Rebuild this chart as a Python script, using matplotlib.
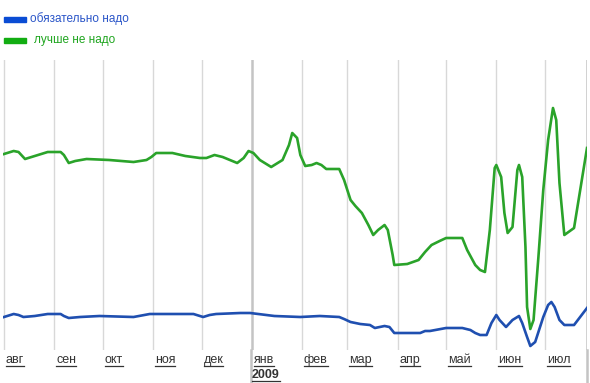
import matplotlib
matplotlib.use("Agg")
import matplotlib.pyplot as plt
from matplotlib.lines import Line2D

plt.rcParams['font.family'] = ['Liberation Sans', 'DejaVu Sans']

# days counted from 1 Aug 2008
green_days = [0, 6, 9, 13, 19, 27, 35, 37, 40, 44, 51, 65, 80, 88, 91, 94, 104, 112, 121, 125,
              130, 135, 144, 148, 151, 154, 158, 165, 172, 176, 178, 181, 183, 186, 190, 193, 196, 199, 207, 210,
              214, 217, 221, 225, 228, 231, 235, 237, 240, 241, 249, 256, 260, 264, 269, 273, 283, 286, 291, 294,
              297, 300, 303, 304, 307, 309, 311, 314, 317, 318, 320, 322, 323, 325, 327, 330, 333, 336, 339, 341,
              343, 346, 352, 360]
green_vals = [196, 199, 198, 191, 194, 198, 198, 195, 187, 189, 191, 190, 188, 190, 193, 197, 197, 194, 192, 192,
              195, 193, 187, 192, 199, 197, 190, 183, 190, 205, 217, 212, 195, 184, 185, 187, 185, 181, 181, 170,
              150, 144, 137, 125, 115, 120, 125, 120, 95, 85, 86, 90, 98, 105, 109, 112, 112, 100, 85, 80,
              78, 120, 182, 185, 173, 137, 117, 123, 180, 185, 173, 103, 43, 21, 30, 93, 160, 210, 242, 230,
              167, 115, 122, 202]

blue_days = [0, 6, 9, 12, 19, 27, 35, 37, 40, 47, 59, 80, 90, 102, 117, 121, 123, 127, 131, 146,
             152, 167, 183, 195, 207, 210, 214, 220, 226, 229, 232, 235, 238, 241, 257, 260, 263, 273, 283, 288,
             291, 294, 298, 301, 304, 306, 310, 314, 318, 320, 323, 325, 328, 333, 336, 338, 340, 343, 346, 352,
             360]
blue_vals = [33, 36, 35, 33, 34, 36, 36, 34, 32, 33, 34, 33, 36, 36, 36, 34, 33, 35, 36, 37,
             37, 34, 33, 34, 33, 31, 28, 26, 25, 22, 23, 24, 23, 17, 17, 19, 19, 22, 22, 20,
             17, 15, 15, 27, 35, 30, 23, 30, 34, 27, 13, 4, 8, 33, 45, 48, 43, 30, 25, 25,
             42]

month_days = [0, 31, 61, 92, 122, 153, 184, 212, 243, 273, 304, 334]
month_labels = ['авг', 'сен', 'окт', 'ноя', 'дек', 'янв', 'фев', 'мар', 'апр', 'май', 'июн', 'июл']
series_names = ['обязательно надо', 'лучше не надо']

W, H = 590, 383
fig = plt.figure(figsize=(W / 100, H / 100), dpi=100)
ax = fig.add_axes([3 / W, (H - 350) / H, 584 / W, 290 / H])
ax.set_xlim(-0.6, 360)
ax.set_ylim(0, 290)
for s in ax.spines.values():
    s.set_visible(False)
ax.set_xticks([])
ax.set_yticks([])

for d in month_days:
    if d == 153:
        ax.axvline(d, color='#c4c4c4', lw=1.8, zorder=1)
    else:
        ax.axvline(d, color='#d8d8d8', lw=1, zorder=1)
ax.axvline(360, color='#c4c4c4', lw=1.8, zorder=1)

ax.plot(blue_days, blue_vals, color='#1f4fb0', lw=1.9, solid_joinstyle='round', zorder=3)
ax.plot(green_days, green_vals, color='#2aa32a', lw=1.9, solid_joinstyle='round', zorder=3)

# extend Jan and right edge lines below the plot
fig.add_artist(Line2D([251 / W, 251 / W], [0, 33 / H], color='#c4c4c4', lw=1.8))
fig.add_artist(Line2D([587 / W, 587 / W], [0, 33 / H], color='#c4c4c4', lw=1.8))

# month labels, underlined
labels = []
for d, lab in zip(month_days, month_labels):
    xf = ax.transData.transform((d, 0))[0] / W
    t = fig.text(xf + 2 / W, 1 - 360 / H, lab, fontsize=9, color='#333333', va='center', ha='left')
    labels.append(t)
t = fig.text(252 / W, 1 - 375 / H, '2009', fontsize=9, color='#333333', va='center', ha='left',
             fontweight='bold')
labels.append(t)

# legend
fig.patches.append(plt.Rectangle((4 / W, 1 - 22 / H), 22 / W, 5 / H, transform=fig.transFigure,
                                 color='#0a4cd4', figure=fig))
fig.patches.append(plt.Rectangle((4 / W, 1 - 43 / H), 22 / W, 5 / H, transform=fig.transFigure,
                                 color='#12ad12', figure=fig))
fig.text(30 / W, 1 - 19 / H, series_names[0], fontsize=8.5, color='#2a55c8', va='center', ha='left')
fig.text(34 / W, 1 - 40 / H, series_names[1], fontsize=8.5, color='#1ea51e', va='center', ha='left')

fig.canvas.draw()
r = fig.canvas.get_renderer()
for t in labels:
    bb = t.get_window_extent(r)
    yline = (bb.y0 + 0.5) / H
    fig.add_artist(Line2D([bb.x0 / W, bb.x1 / W], [yline, yline], color='#333333', lw=0.9))

fig.savefig('out.png', dpi=100)
